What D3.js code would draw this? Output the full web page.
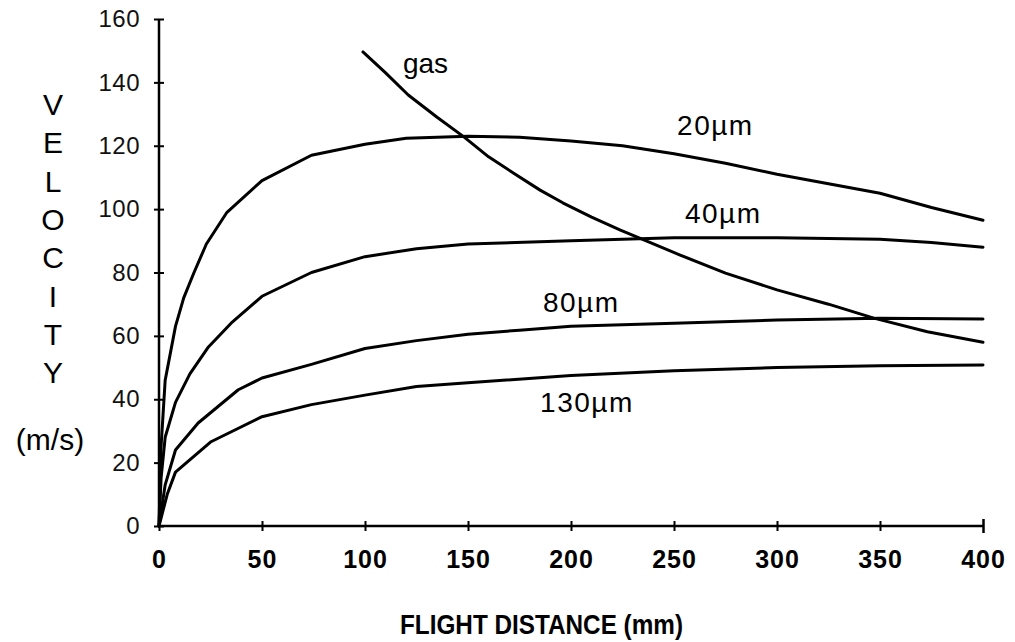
<!DOCTYPE html>
<html>
<head>
<meta charset="utf-8">
<script src="https://cdn.jsdelivr.net/npm/d3@7"></script>
<style>
  html, body { margin: 0; padding: 0; background: #fff; }
  svg { display: block; }
</style>
</head>
<body>
<svg id="chart" width="1015" height="642"></svg>
<script>
// ---- data ----
const xTicks = [0, 50, 100, 150, 200, 250, 300, 350, 400];
const yTicks = [0, 20, 40, 60, 80, 100, 120, 140, 160];
const yLetters = ["V", "E", "L", "O", "C", "I", "T", "Y"];

const x20 = [0, 1, 3, 8, 12, 17, 23, 33, 50, 74, 100, 120, 150, 175, 200, 225, 250, 275, 300, 325, 350, 375, 400];
const v20 = [0, 25, 46, 63, 72, 80, 89, 99, 109, 117, 120.5, 122.4, 123, 122.7, 121.5, 120, 117.5, 114.5, 111, 108, 105, 100.5, 96.5];

const x40 = [0, 1, 3, 8, 15, 24, 35, 50, 74, 100, 125, 150, 200, 250, 300, 350, 375, 400];
const v40 = [0, 15, 28, 39, 48, 56.5, 64, 72.5, 80, 85, 87.5, 89, 90, 91, 91, 90.5, 89.5, 88];

const x80 = [0, 3, 8, 19, 38.5, 50, 74, 100, 125, 150, 175, 200, 250, 300, 350, 400];
const v80 = [0, 13, 24, 32.5, 43, 46.7, 51, 56, 58.5, 60.5, 61.8, 63, 64, 65, 65.6, 65.3];

const x130 = [0, 4, 8, 25, 50, 74, 100, 125, 150, 200, 250, 300, 350, 400];
const v130 = [0, 10, 17, 26.5, 34.5, 38.3, 41.3, 44, 45.2, 47.5, 49, 50, 50.6, 50.8];

const xGas = [99, 110, 121, 135, 148, 160, 172, 185, 196, 210, 224, 240, 253, 275, 300, 325, 347, 373, 400];
const vGas = [149.6, 143, 136, 129, 122.8, 116.5, 111.4, 106, 102, 97.5, 93.4, 89, 85.5, 79.8, 74.5, 70, 65.6, 61.3, 58];

const seriesNames = ["20\u00b5m", "40\u00b5m", "80\u00b5m", "130\u00b5m", "gas"];
const labelAt = [[251.5, 123.5], [255.3, 95.6], [186.4, 67.5], [185, 36], [118.4, 143]]; // label anchor in data coords

// ---- chart ----
const svg = d3.select("#chart");
const x = d3.scaleLinear().domain([0, 400]).range([159, 983]);
const y = d3.scaleLinear().domain([0, 160]).range([526, 19]);
const font = "'Liberation Sans', Arial, Helvetica, sans-serif";

const series = [
  d3.zip(x20, v20), d3.zip(x40, v40), d3.zip(x80, v80), d3.zip(x130, v130), d3.zip(xGas, vGas)
];
const line = d3.line().x(d => x(d[0])).y(d => y(d[1]));

svg.append("g").selectAll("path").data(series).join("path")
  .attr("d", line)
  .attr("fill", "none")
  .attr("stroke", "#000")
  .attr("stroke-width", 3)
  .attr("stroke-linejoin", "round")
  .attr("stroke-linecap", "round");

// y axis
const gy = svg.append("g").attr("transform", `translate(${x(0)},0)`)
  .call(d3.axisLeft(y).tickValues(yTicks).tickSize(5).tickSizeOuter(0).tickPadding(14));
gy.select(".domain").attr("stroke-width", 2.5).attr("d", `M0,${y(160)}V${y(0)}`);
gy.selectAll(".tick line").attr("x1", 5).attr("stroke-width", 2);
gy.selectAll(".tick text").attr("font-family", font).attr("font-size", 24).attr("letter-spacing", 0.5).attr("fill", "#111");

// x axis
const gx = svg.append("g").attr("transform", `translate(0,${y(0)})`)
  .call(d3.axisBottom(x).tickValues(xTicks).tickSize(5).tickSizeOuter(0).tickPadding(19));
gx.select(".domain").attr("stroke-width", 2.5).attr("d", `M${x(0)},0H${x(400)}`);
gx.selectAll(".tick line").attr("y1", -5).attr("stroke-width", 2);
gx.selectAll(".tick line").filter(d => d === 400).attr("y1", -7).attr("y2", 7).attr("stroke-width", 2.5);
gx.selectAll(".tick text").attr("font-family", font).attr("font-size", 25).attr("font-weight", "bold").attr("letter-spacing", 1).attr("fill", "#000");

// series labels
svg.append("g").selectAll("text").data(seriesNames).join("text")
  .attr("x", (d, i) => x(labelAt[i][0]))
  .attr("y", (d, i) => y(labelAt[i][1]))
  .attr("font-family", font)
  .attr("font-size", 28)
  .attr("letter-spacing", (d, i) => i === 4 ? 0 : 1.5)
  .attr("fill", "#000")
  .text(d => d);

// vertical y-axis title
svg.append("g").selectAll("text").data(yLetters).join("text")
  .attr("x", 53)
  .attr("y", (d, i) => 115 + i * 38.3)
  .attr("text-anchor", "middle")
  .attr("font-family", font)
  .attr("font-size", 30)
  .attr("fill", "#000")
  .text(d => d);

svg.append("text")
  .attr("x", 50).attr("y", 450)
  .attr("text-anchor", "middle")
  .attr("font-family", font)
  .attr("font-size", 30)
  .attr("fill", "#000")
  .text("(m/s)");

svg.append("text")
  .attr("x", 400).attr("y", 634)
  .attr("font-family", font)
  .attr("font-size", 27)
  .attr("font-weight", "bold")
  .attr("textLength", 283)
  .attr("lengthAdjust", "spacingAndGlyphs")
  .attr("fill", "#000")
  .text("FLIGHT DISTANCE (mm)");
</script>
</body>
</html>
